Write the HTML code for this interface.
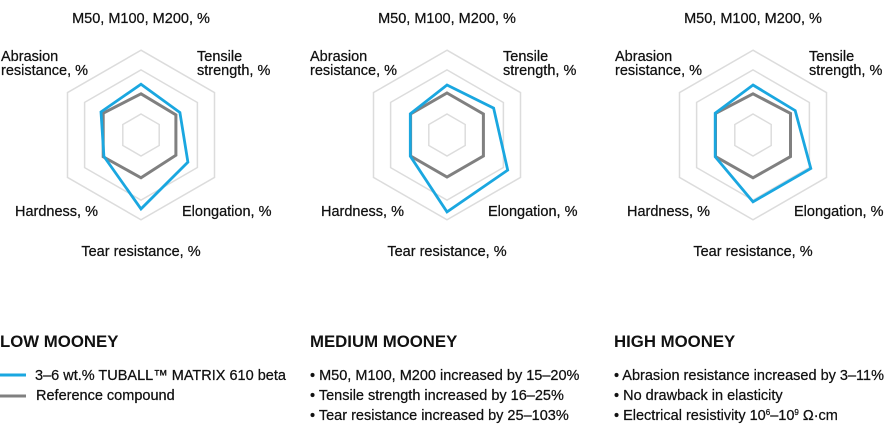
<!DOCTYPE html>
<html><head><meta charset="utf-8"><style>
body{margin:0;background:#fff;width:888px;height:441px;overflow:hidden;font-family:"Liberation Sans",sans-serif;}
svg{display:block}
text{stroke:#111;stroke-width:0.25px}
</style></head><body>
<svg id="c" width="888" height="441" viewBox="0 0 888 441" xmlns="http://www.w3.org/2000/svg" font-family="Liberation Sans, sans-serif" fill="#111">
</svg>
<script>
const axes = ["M50, M100, M200, %","Tensile strength, %","Elongation, %","Tear resistance, %","Hardness, %","Abrasion resistance, %"];
const panels = ["low-mooney","medium-mooney","high-mooney"];
const gridLevels = [50, 155, 202];
const tubLow = [121,107,129,176,102,110];
const refLow = [98,96,96,102,104,104];
const tubMed = [119,128,167,183,101,101];
const refMed = [100,100,100,100,100,100];
const tubHigh = [119,116,159,159,104,104];
const refHigh = [98,103,103,102,103,103];
const seriesTub = [tubLow, tubMed, tubHigh];
const seriesRef = [refLow, refMed, refHigh];

const NS="http://www.w3.org/2000/svg";
const svg=document.getElementById('c');
const CY=135, K=0.42, CX0=141, DX=306;
const FS=14.5;
function rr(v){return v*K;}
function pt(cx,i,v){const a=-Math.PI/2+i*Math.PI/3;return [cx+rr(v)*Math.cos(a),CY+rr(v)*Math.sin(a)];}
function poly(cx,vals){return vals.map((v,i)=>pt(cx,i,v).map(n=>n.toFixed(1)).join(',')).join(' ');}
function txt(x,y,s,opts){const t=document.createElementNS(NS,'text');t.setAttribute('x',x);t.setAttribute('y',y);t.setAttribute('font-size',opts.size||FS);if(opts.anchor)t.setAttribute('text-anchor',opts.anchor);if(opts.bold){t.setAttribute('font-weight','bold');t.setAttribute('style','stroke-width:0');}t.textContent=s;svg.appendChild(t);return t;}

panels.forEach((p,k)=>{
  const cx=CX0+k*DX, ox=k*DX;
  const g=document.createElementNS(NS,'g');
  
  
  svg.appendChild(g);
  gridLevels.forEach(l=>{
    const e=document.createElementNS(NS,'polygon');
    e.setAttribute('points',poly(cx,[l,l,l,l,l,l]));
    e.setAttribute('fill','none');e.setAttribute('stroke','#dcdcdc');e.setAttribute('stroke-width','1.5');
    
    
    g.appendChild(e);
  });
  const r=document.createElementNS(NS,'polygon');
  r.setAttribute('points',poly(cx,seriesRef[k]));
  r.setAttribute('fill','none');r.setAttribute('stroke','#808080');r.setAttribute('stroke-width','3');
  
  
  g.appendChild(r);
  const b=document.createElementNS(NS,'polygon');
  b.setAttribute('points',poly(cx,seriesTub[k]));
  b.setAttribute('fill','none');b.setAttribute('stroke','#1aa7e0');b.setAttribute('stroke-width','2.8');
  
  
  g.appendChild(b);
  let t;
  t=txt(cx,23,axes[0],{anchor:'middle'});
  
  t=txt(ox+197,61,'Tensile',{});
  t=txt(ox+197,75,'strength, %',{});
  t=txt(ox+1+(k==1?3:k==2?2:0),61,'Abrasion',{});
  t=txt(ox+1+(k==1?3:k==2?2:0),75,'resistance, %',{});
  t=txt(ox+98,216,axes[4],{anchor:'end'});
  t=txt(ox+182,216,axes[2],{});
  t=txt(cx,256,axes[3],{anchor:'middle'});
});

let h;
h=txt(0,347,'LOW MOONEY',{size:16.8,bold:true});
h=txt(310,347,'MEDIUM MOONEY',{size:16.8,bold:true});
h=txt(614,347,'HIGH MOONEY',{size:16.8,bold:true});

const l1=document.createElementNS(NS,'line');
l1.setAttribute('x1',0);l1.setAttribute('x2',26);l1.setAttribute('y1',375);l1.setAttribute('y2',375);l1.setAttribute('stroke','#1aa7e0');l1.setAttribute('stroke-width','3');


svg.appendChild(l1);
const l2=document.createElementNS(NS,'line');
l2.setAttribute('x1',0);l2.setAttribute('x2',26);l2.setAttribute('y1',396);l2.setAttribute('y2',396);l2.setAttribute('stroke','#808080');l2.setAttribute('stroke-width','3');


svg.appendChild(l2);
h=txt(35,380,'3–6 wt.% TUBALL™ MATRIX 610 beta',{});
h=txt(36,400,'Reference compound',{});

h=txt(310,380,'• M50, M100, M200 increased by 15–20%',{});
h=txt(310,400,'• Tensile strength increased by 16–25%',{});
h=txt(310,420,'• Tear resistance increased by 25–103%',{});
h=txt(614,380,'• Abrasion resistance increased by 3–11%',{});
h=txt(614,400,'• No drawback in elasticity',{});
const e=txt(614,420,'',{});


e.innerHTML='• Electrical resistivity 10<tspan dy="-5" font-size="8">6</tspan><tspan dy="5">–10</tspan><tspan dy="-5" font-size="8">9</tspan><tspan dy="5"> Ω·cm</tspan>';
</script>
</body></html>
